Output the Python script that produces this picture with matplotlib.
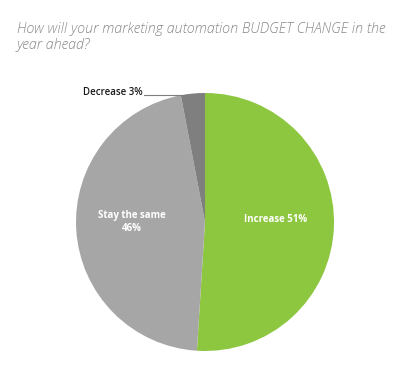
import matplotlib.pyplot as plt

# 数据
categories = ['Increase', 'Stay the same', 'Decrease']
values = [51, 46, 3]
colors = ['#8DC63F', '#A6A6A6', '#7F7F7F']

fig = plt.figure(figsize=(4.05, 3.73), dpi=100)
fig.patch.set_facecolor('white')

fig.text(0.042, 1 - 22 / 373, 'How will your marketing automation BUDGET CHANGE in the\nyear ahead?',
         fontsize=10.3, style='italic', color='#888888', family='Open Sans',
         fontweight='light', ha='left', va='top', linespacing=1.2)

ax = fig.add_axes([0.1877, 0.059, 0.637, 0.6917])
ax.pie(values, colors=colors, startangle=90, counterclock=False,
       wedgeprops=dict(linewidth=0))
ax.set_xlim(-1, 1)
ax.set_ylim(-1, 1)
ax.set_aspect('equal')
ax.axis('off')

ax.text(0.55, 0.02, f'{categories[0]} {values[0]}%', color='white', fontsize=7,
        fontweight='bold', family='Open Sans', ha='center', va='center')
ax.text(-0.566, 0.0, f'{categories[1]}\n{values[1]}%', color='white', fontsize=7,
        fontweight='bold', family='Open Sans', ha='center', va='center', linespacing=1.3)

ax.plot([-0.475, -0.10], [0.985, 0.985], color='#7F7F7F', linewidth=0.8, clip_on=False)
ax.text(-0.48, 0.985, f'{categories[2]} {values[2]}%', color='#1a1a1a', fontsize=7,
        fontweight='semibold', family='Open Sans', ha='right', va='baseline', clip_on=False)

fig.savefig('out.png', dpi=100)
